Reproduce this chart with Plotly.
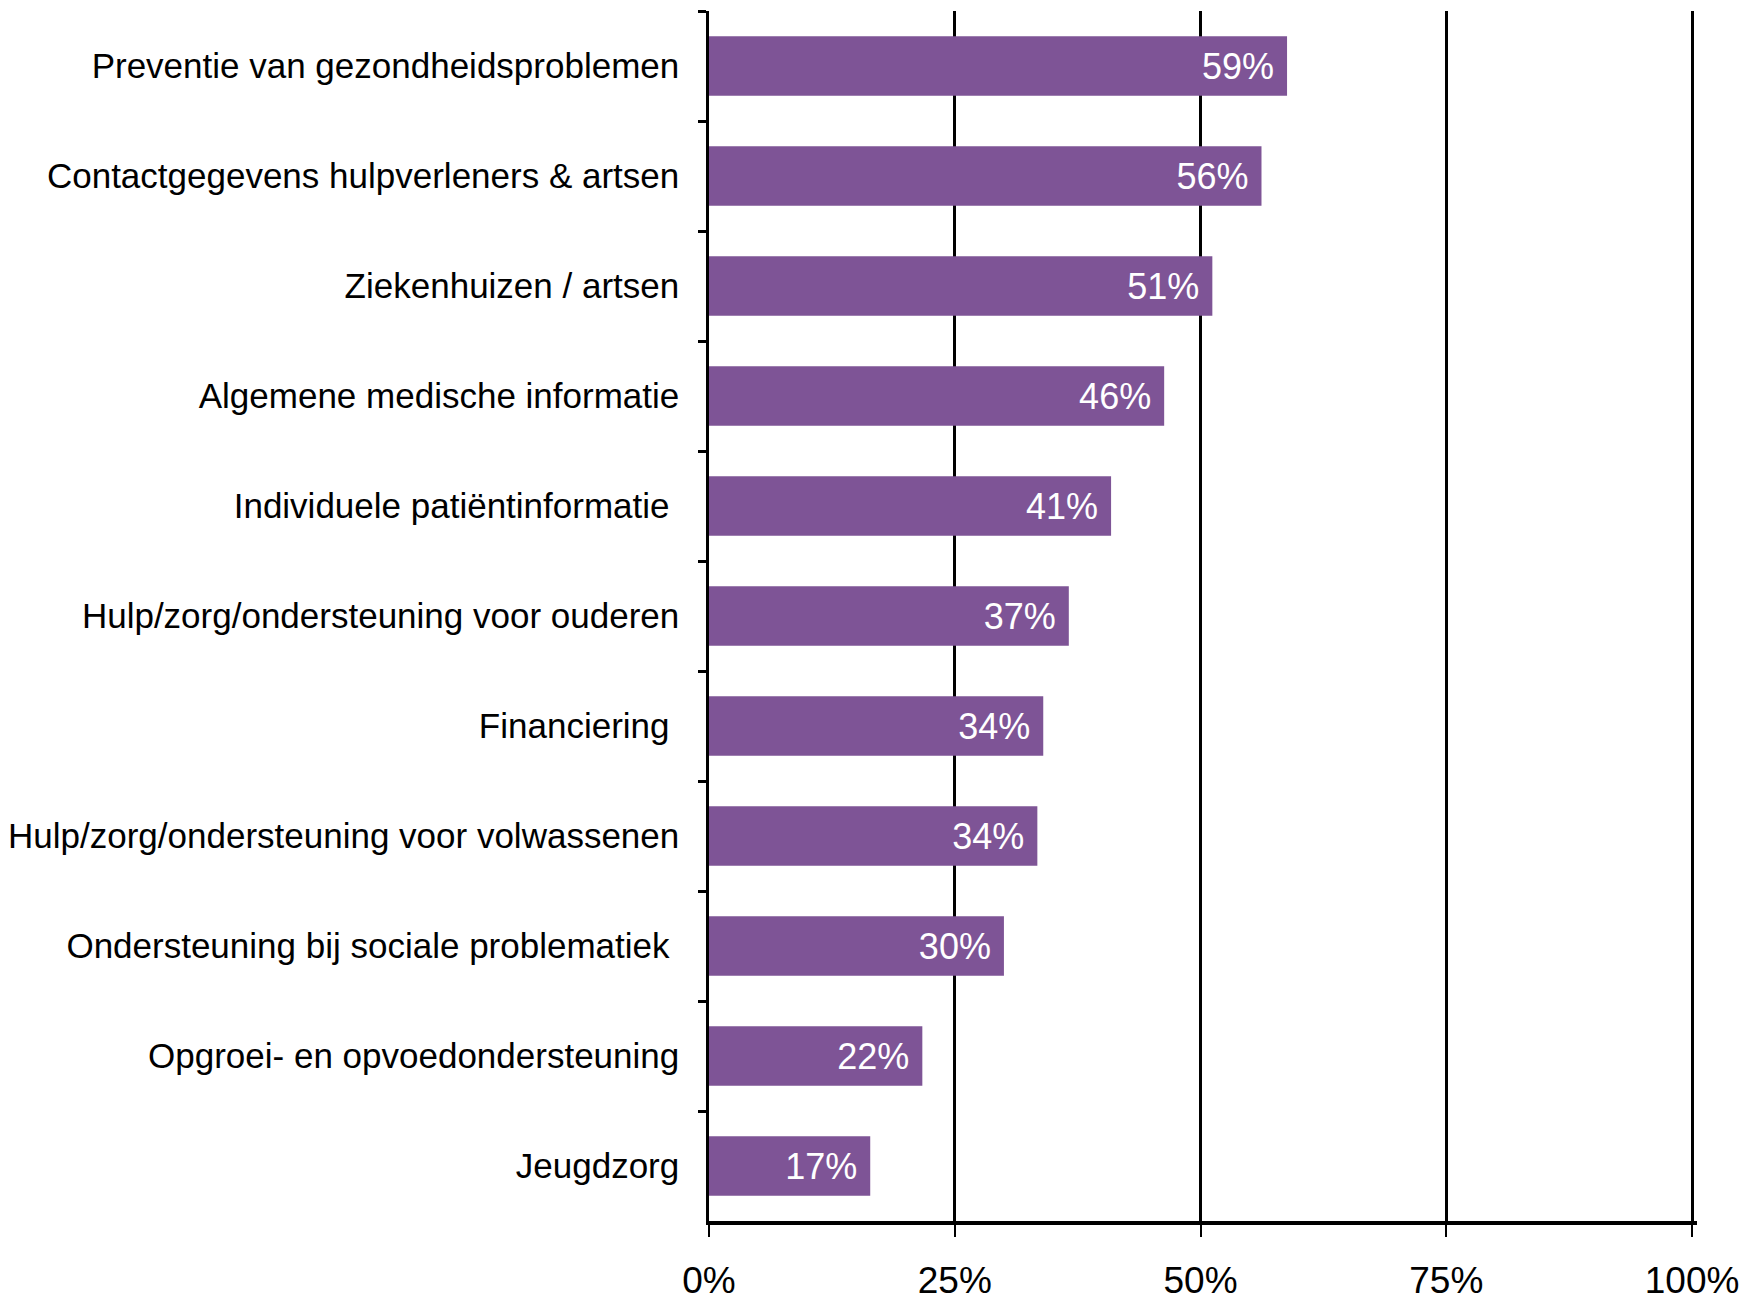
import plotly.graph_objects as go

categories = [
    "Preventie van gezondheidsproblemen",
    "Contactgegevens hulpverleners & artsen",
    "Ziekenhuizen / artsen",
    "Algemene medische informatie",
    "Individuele patiëntinformatie\u00a0",
    "Hulp/zorg/ondersteuning voor ouderen",
    "Financiering\u00a0",
    "Hulp/zorg/ondersteuning voor volwassenen",
    "Ondersteuning bij sociale problematiek\u00a0",
    "Opgroei- en opvoedondersteuning",
    "Jeugdzorg",
]
values = [58.8, 56.2, 51.2, 46.3, 40.9, 36.6, 34.0, 33.4, 30.0, 21.7, 16.4]
labels = ["59%", "56%", "51%", "46%", "41%", "37%", "34%", "34%", "30%", "22%", "17%"]
x_ticks = [0, 25, 50, 75, 100]
x_tick_labels = ["0%", "25%", "50%", "75%", "100%"]

FONT = "Liberation Sans Narrow, Arial Narrow, Liberation Sans, Arial, sans-serif"

fig = go.Figure(
    go.Bar(
        x=values,
        y=categories,
        orientation="h",
        marker=dict(color="#7E5496", line=dict(width=0)),
        text=[l + "\u00a0" for l in labels],
        textposition="inside",
        insidetextanchor="end",
        textfont=dict(family=FONT, size=36, color="white"),
        cliponaxis=False,
    )
)

fig.update_layout(
    width=1745,
    height=1302,
    margin=dict(l=709, r=48, t=11, b=81, autoexpand=False),
    paper_bgcolor="white",
    plot_bgcolor="white",
    bargap=0.46,
    showlegend=False,
    uniformtext=dict(mode=False),
    font=dict(family=FONT, color="black"),
)

fig.update_xaxes(
    range=[0, 100.5],
    tickvals=x_ticks,
    ticktext=x_tick_labels,
    showgrid=True,
    gridcolor="black",
    gridwidth=2.5,
    zeroline=False,
    showline=True,
    linecolor="black",
    linewidth=4,
    ticks="outside",
    ticklen=12,
    tickwidth=2,
    tickcolor="black",
    ticklabelstandoff=12,
    tickfont=dict(family=FONT, size=37, color="black"),
    automargin=False,
    fixedrange=True,
)

fig.update_yaxes(
    autorange="reversed",
    categoryorder="array",
    categoryarray=categories,
    showgrid=False,
    zeroline=False,
    showline=True,
    linecolor="black",
    linewidth=2.5,
    ticks="outside",
    tickson="boundaries",
    ticklen=8,
    tickwidth=3,
    tickcolor="black",
    ticklabelstandoff=20,
    tickfont=dict(family=FONT, size=35, color="black"),
    automargin=False,
    fixedrange=True,
)

fig.write_html(
    "out.html",
    config={"displayModeBar": False},
    post_script="document.body.style.margin='0';document.body.style.overflow='hidden';",
)
